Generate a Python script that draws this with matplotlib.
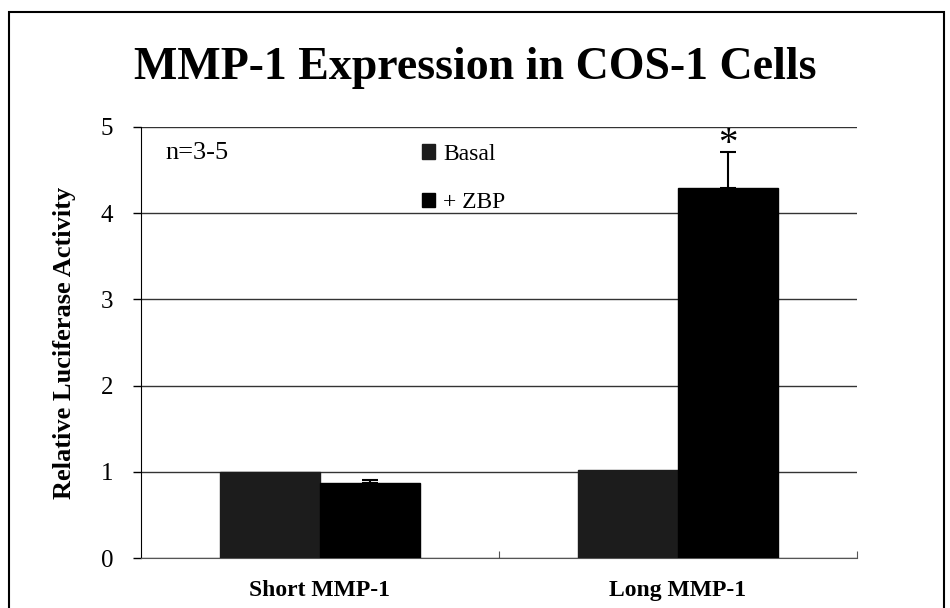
import matplotlib
matplotlib.use("Agg")
import matplotlib.pyplot as plt
import numpy as np
from matplotlib.patches import Rectangle

categories = ["Short MMP-1", "Long MMP-1"]
basal = [1.00, 1.02]
zbp = [0.87, 4.29]
zbp_err = [0.04, 0.42]
series_names = ["Basal", "+ ZBP"]

plt.rcParams["font.family"] = "Liberation Serif"

fig = plt.figure(figsize=(9.5, 6.08), dpi=100)
ax = fig.add_axes([0.1484, 0.0822, 0.7537, 0.709])

x = np.arange(len(categories))
w = 0.28
ax.bar(x - w / 2, basal, w, color="#1c1c1c", edgecolor="#1c1c1c", zorder=3)
ax.bar(x + w / 2, zbp, w, color="black", edgecolor="black", zorder=3)
ax.errorbar(x + w / 2, zbp, yerr=[np.zeros(len(zbp)), zbp_err], fmt="none",
            ecolor="black", elinewidth=1.5, capsize=6, capthick=1.5, zorder=4)
# significance mark above the long ZBP bar
ax.text(x[1] + w / 2, zbp[1] + zbp_err[1] + 0.09, "*", ha="center", va="center",
        fontsize=28)

ax.set_xlim(-0.5, 1.5)
ax.set_ylim(0, 5)
ax.set_yticks(range(6))
ax.tick_params(axis="y", labelsize=18, length=6, direction="out", width=1, pad=14)
ax.set_xticks([0.5, 1.5])
ax.set_xticklabels([])
ax.tick_params(axis="x", length=5, direction="in", color="#555555")
for xi, lab in zip(x, categories):
    ax.text(xi, -0.25, lab, ha="center", va="top", fontsize=17, fontweight="bold")
ax.yaxis.grid(True, color="#333333", linewidth=1)
ax.set_axisbelow(True)
for s in ["top", "right"]:
    ax.spines[s].set_visible(False)
ax.spines["left"].set_color("black")
ax.spines["bottom"].set_color("#555555")
ax.set_ylabel("Relative Luciferase Activity", fontsize=19, fontweight="bold", labelpad=18)

ax.text(0.034, 0.94, "n=3-5", transform=ax.transAxes, fontsize=19, va="center")
ax.legend(handles=[Rectangle((0, 0), 1, 1, color="#1c1c1c"),
                   Rectangle((0, 0), 1, 1, color="black")],
          labels=series_names, loc="upper left", bbox_to_anchor=(0.363, 1.01),
          frameon=False, fontsize=17, handlelength=0.55, handleheight=0.55,
          handletextpad=0.35, labelspacing=1.15)

fig.text(0.5, 0.888, "MMP-1 Expression in COS-1 Cells", ha="center", va="center",
         fontsize=33, fontweight="bold")

fig.add_artist(Rectangle((0.009, -0.05), 0.985, 1.03, transform=fig.transFigure,
                         fill=False, edgecolor="black", linewidth=1.5))

fig.savefig("out.png", dpi=100)
